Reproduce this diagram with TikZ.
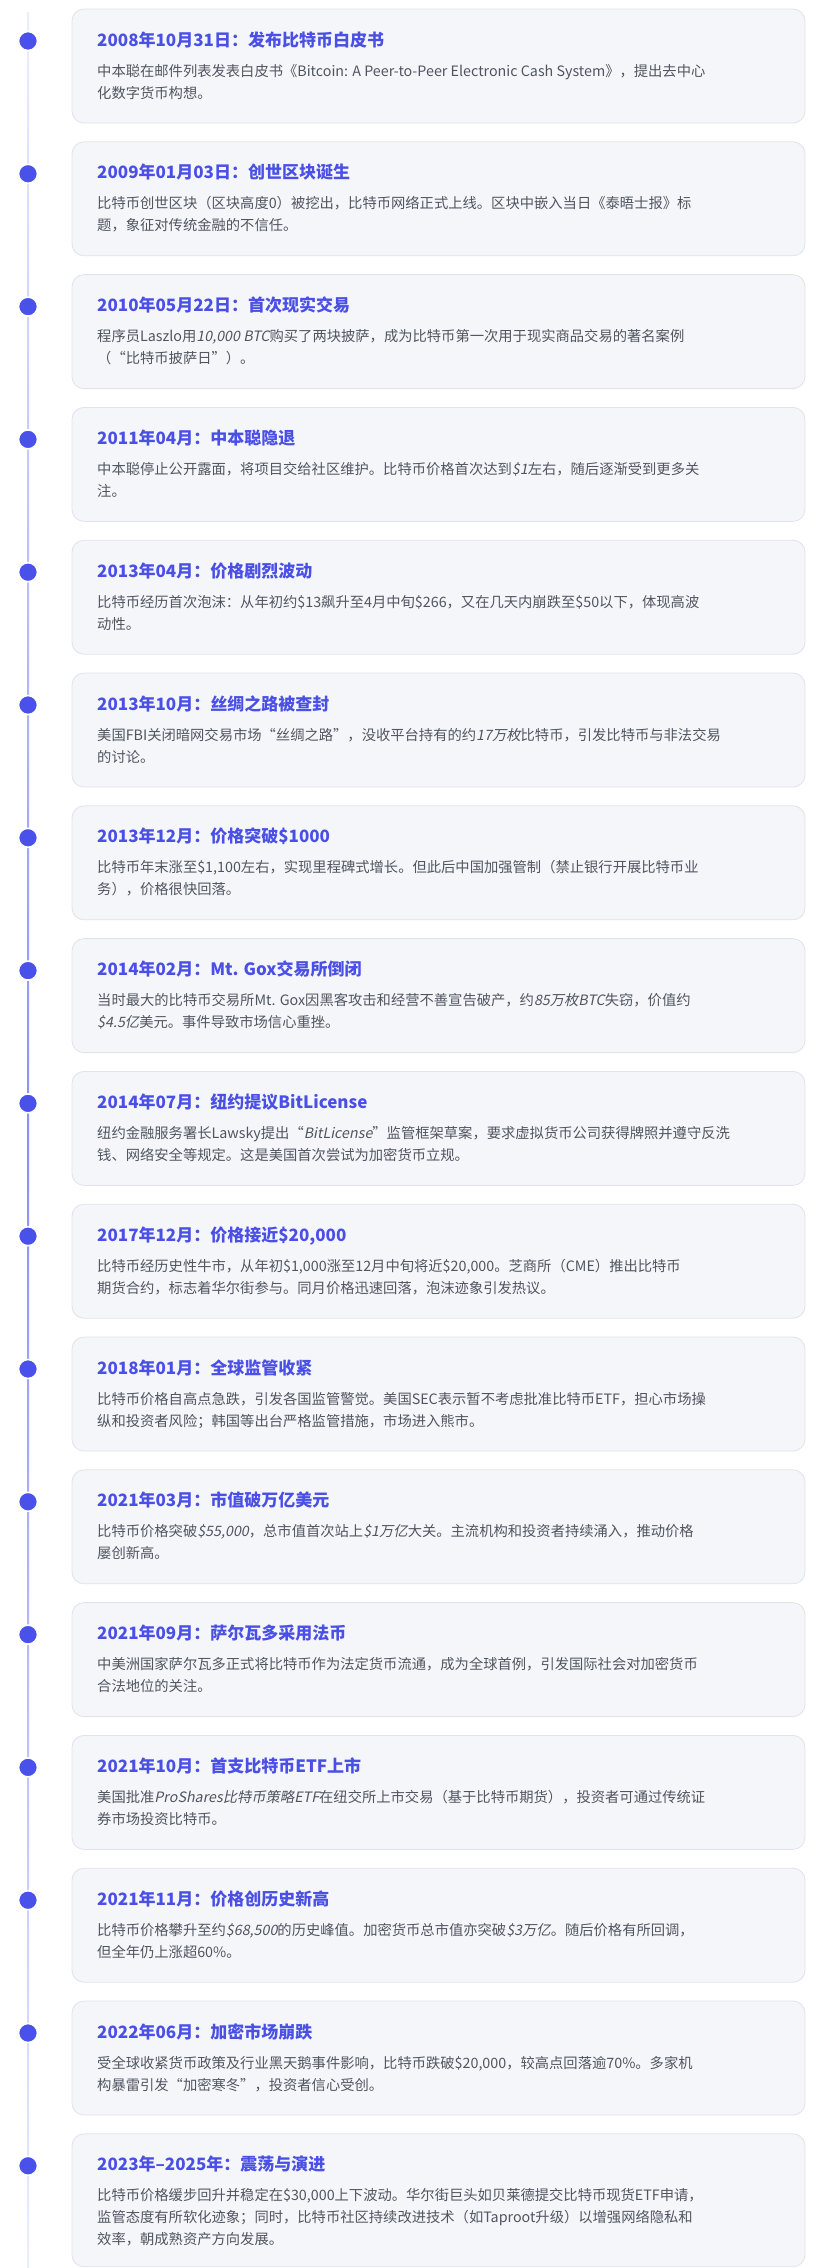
\documentclass[tikz,border=0pt]{standalone}
\usepackage{fontspec}
\setmainfont{Noto Sans CJK SC}[AutoFakeSlant=0.2]
\definecolor{ttl}{HTML}{4A50E6}
\definecolor{bodyc}{HTML}{505560}
\definecolor{cardf}{HTML}{F5F6FA}
\definecolor{cardd}{HTML}{E1E3EA}
\definecolor{dotc}{HTML}{4A50EA}
\definecolor{linel}{HTML}{ECEEFD}
\definecolor{linem}{HTML}{8A90F2}
\tikzset{
 card/.style={draw=cardd,fill=cardf,rounded corners=12pt,line width=0.8pt},
 dotn/.style={circle,fill=dotc,draw=white,line width=1.6pt,minimum size=19pt,inner sep=0pt},
 ttlt/.style={anchor=base west,inner sep=0pt,text=ttl,font=\fontsize{17}{20}\selectfont\bfseries},
 bodyt/.style={anchor=base west,inner sep=0pt,text=bodyc,font=\fontsize{14.3}{18}\selectfont},
}
\newcommand\evt[6]{%
 \pgfmathsetmacro\tp{9+132.8*(#1-1)}%
 \draw[card] (72,\tp) rectangle (805,\tp+#6);
 \node[dotn] (d#1) at (28,\tp+32) {};
 \node[ttlt] (t#1) at (97,\tp+37) {#2};
 \node[bodyt] (a#1) at (97,\tp+67) {#3};
 \node[bodyt] (b#1) at (97,\tp+89) {#4};
 \ifx\relax#5\relax\else\node[bodyt] (e#1) at (97,\tp+111) {#5};\fi
}
\begin{document}
\begin{tikzpicture}[x=1pt,y=-1pt]
\useasboundingbox (0,0) rectangle (833,2268);
\fill[white] (0,0) rectangle (833,2268);
\shade[top color=linel,bottom color=linel,middle color=linem] (27,12) rectangle (29,2268);
\evt{1}{2008年10月31日：发布比特币白皮书}{中本聪在邮件列表发表白皮书《Bitcoin: A Peer-to-Peer Electronic Cash System》，提出去中心}{化数字货币构想。}{}{114}
\evt{2}{2009年01月03日：创世区块诞生}{比特币创世区块（区块高度0）被挖出，比特币网络正式上线。区块中嵌入当日《泰晤士报》标}{题，象征对传统金融的不信任。}{}{114}
\evt{3}{2010年05月22日：首次现实交易}{程序员Laszlo用\textit{10,000 BTC}购买了两块披萨，成为比特币第一次用于现实商品交易的著名案例}{（“比特币披萨日”）。}{}{114}
\evt{4}{2011年04月：中本聪隐退}{中本聪停止公开露面，将项目交给社区维护。比特币价格首次达到\textit{\$1}左右，随后逐渐受到更多关}{注。}{}{114}
\evt{5}{2013年04月：价格剧烈波动}{比特币经历首次泡沫：从年初约\$13飙升至4月中旬\$266，又在几天内崩跌至\$50以下，体现高波}{动性。}{}{114}
\evt{6}{2013年10月：丝绸之路被查封}{美国FBI关闭暗网交易市场“丝绸之路”，没收平台持有的约\textit{17万枚}比特币，引发比特币与非法交易}{的讨论。}{}{114}
\evt{7}{2013年12月：价格突破\$1000}{比特币年末涨至\$1,100左右，实现里程碑式增长。但此后中国加强管制（禁止银行开展比特币业}{务），价格很快回落。}{}{114}
\evt{8}{2014年02月：Mt. Gox交易所倒闭}{当时最大的比特币交易所Mt. Gox因黑客攻击和经营不善宣告破产，约\textit{85万枚BTC}失窃，价值约}{\textit{\$4.5亿}美元。事件导致市场信心重挫。}{}{114}
\evt{9}{2014年07月：纽约提议BitLicense}{纽约金融服务署长Lawsky提出“\textit{BitLicense}”监管框架草案，要求虚拟货币公司获得牌照并遵守反洗}{钱、网络安全等规定。这是美国首次尝试为加密货币立规。}{}{114}
\evt{10}{2017年12月：价格接近\$20,000}{比特币经历史性牛市，从年初\$1,000涨至12月中旬将近\$20,000。芝商所（CME）推出比特币}{期货合约，标志着华尔街参与。同月价格迅速回落，泡沫迹象引发热议。}{}{114}
\evt{11}{2018年01月：全球监管收紧}{比特币价格自高点急跌，引发各国监管警觉。美国SEC表示暂不考虑批准比特币ETF，担心市场操}{纵和投资者风险；韩国等出台严格监管措施，市场进入熊市。}{}{114}
\evt{12}{2021年03月：市值破万亿美元}{比特币价格突破\textit{\$55,000}，总市值首次站上\textit{\$1万亿}大关。主流机构和投资者持续涌入，推动价格}{屡创新高。}{}{114}
\evt{13}{2021年09月：萨尔瓦多采用法币}{中美洲国家萨尔瓦多正式将比特币作为法定货币流通，成为全球首例，引发国际社会对加密货币}{合法地位的关注。}{}{114}
\evt{14}{2021年10月：首支比特币ETF上市}{美国批准\textit{ProShares比特币策略ETF}在纽交所上市交易（基于比特币期货），投资者可通过传统证}{券市场投资比特币。}{}{114}
\evt{15}{2021年11月：价格创历史新高}{比特币价格攀升至约\textit{\$68,500}的历史峰值。加密货币总市值亦突破\textit{\$3万亿}。随后价格有所回调，}{但全年仍上涨超60\%。}{}{114}
\evt{16}{2022年06月：加密市场崩跌}{受全球收紧货币政策及行业黑天鹅事件影响，比特币跌破\$20,000，较高点回落逾70\%。多家机}{构暴雷引发“加密寒冬”，投资者信心受创。}{}{114}
\evt{17}{2023年–2025年：震荡与演进}{比特币价格缓步回升并稳定在\$30,000上下波动。华尔街巨头如贝莱德提交比特币现货ETF申请，}{监管态度有所软化迹象；同时，比特币社区持续改进技术（如Taproot升级）以增强网络隐私和}{效率，朝成熟资产方向发展。}{133}
\end{tikzpicture}
\end{document}
